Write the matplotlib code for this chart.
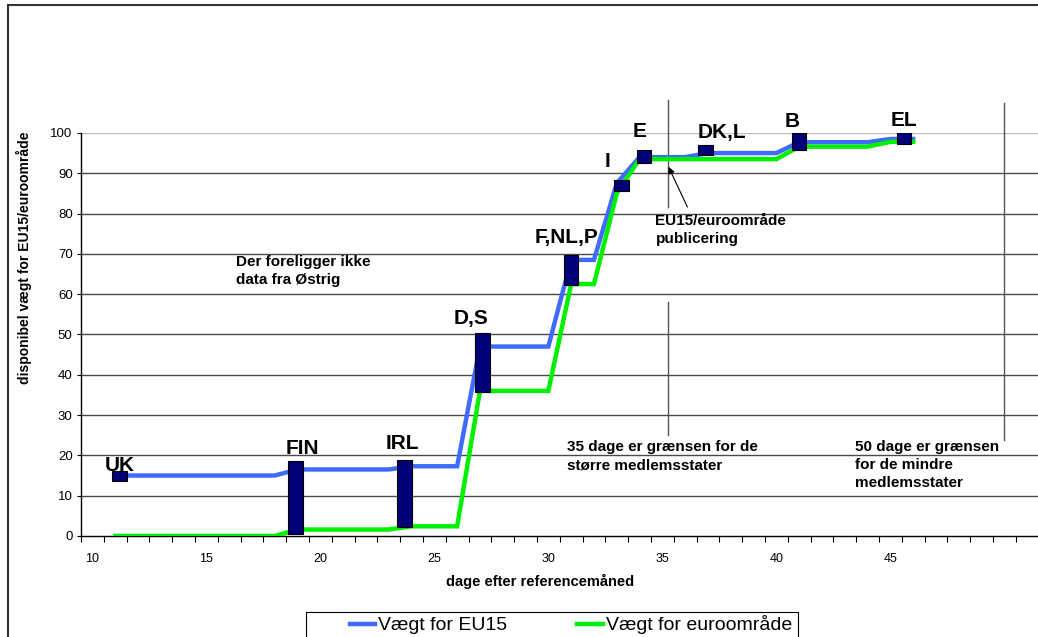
import numpy as np
import matplotlib
matplotlib.use('Agg')
import matplotlib.pyplot as plt
from matplotlib.lines import Line2D
from matplotlib.patches import Rectangle

plt.rcParams['font.family'] = ['Liberation Sans', 'DejaVu Sans']

# ---------------------------------------------------------------- data
dage = list(range(11, 47))
vaegt_eu15 = [15.0] * 8 + [16.5] * 5 + [17.3] * 3 + [47.0] * 4 + [68.5] * 2 \
    + [87.5] + [94.0] * 3 + [95.0] * 4 + [97.7] * 4 + [98.5] * 2
vaegt_euro = [0.0] * 8 + [1.6] * 5 + [2.4] * 3 + [36.0] * 4 + [62.5] * 2 \
    + [85.0] + [93.5] * 7 + [96.6] * 4 + [97.8] * 2

lande = ['UK', 'FIN', 'IRL', 'D,S', 'F,NL,P', 'I', 'E', 'DK,L', 'B', 'EL']
land_dag = [11.2, 18.9, 23.7, 27.1, 31.0, 33.2, 34.2, 36.9, 41.0, 45.6]
land_lav = [13.6, 0.5, 2.2, 35.6, 62.3, 85.6, 92.6, 94.5, 95.8, 97.3]
land_hoej = [16.2, 18.6, 18.9, 50.4, 69.7, 88.3, 95.8, 97.1, 99.9, 100.3]

# label placement (text anchors, data coords)
lab_x = [11.2, 19.2, 23.6, 26.6, 30.8, 32.6, 34.0, 37.6, 40.7, 45.6]
lab_y = [16.1, 20.3, 21.5, 52.6, 72.8, 91.6, 98.9, 98.8, 101.4, 101.7]

BLUE = '#3f6bff'
GREEN = '#00f000'
NAVY = '#000078'

# ---------------------------------------------------------------- figure
fig = plt.figure(figsize=(10.38, 6.37), dpi=100)
ax = fig.add_axes([0.078, 0.1586, 0.9225, 0.6327])

for yv in range(10, 100, 10):
    ax.axhline(yv, color='#4a4a4a', lw=1.0, zorder=1)
ax.axhline(100, color='#bdbdbd', lw=1.0, zorder=1)

ax.plot(dage, vaegt_eu15, color=BLUE, lw=3.2, solid_joinstyle='miter',
        label='Vægt for EU15', zorder=3)
ax.plot(dage, vaegt_euro, color=GREEN, lw=3.2, solid_joinstyle='miter',
        label='Vægt for euroområde', zorder=3)

ax.bar(land_dag, np.array(land_hoej) - np.array(land_lav), bottom=land_lav,
       width=0.64, color=NAVY, edgecolor='black', lw=0.8, zorder=5)
for nm, tx, ty in zip(lande, lab_x, lab_y):
    ax.text(tx, ty, nm, ha='center', va='baseline', fontsize=15,
            fontweight='bold', zorder=6)

# grænse-linjer
ax.plot([35.25, 35.25], [81.6, 108.2], color='#555555', lw=1.0,
        clip_on=False, zorder=2)
ax.plot([35.25, 35.25], [25.1, 58.1], color='#555555', lw=1.0,
        clip_on=False, zorder=2)
ax.plot([50.0, 50.0], [23.8, 107.4], color='#555555', lw=1.0,
        clip_on=False, zorder=2)

tkw = dict(fontsize=11, fontweight='bold', va='top', ha='left',
           linespacing=1.38, zorder=6)
ax.text(16.3, 69.8, 'Der foreligger ikke\ndata fra Østrig', **tkw)
ax.text(30.8, 23.8, '35 dage er grænsen for de\nstørre medlemsstater', **tkw)
ax.text(43.45, 23.8, '50 dage er grænsen\nfor de mindre\nmedlemsstater', **tkw)
ax.text(34.7, 80.0, 'EU15/euroområde\npublicering', **tkw)
ax.annotate('', xy=(35.27, 91.6), xytext=(36.1, 81.6),
            arrowprops=dict(arrowstyle='-|>', color='black', lw=0.8,
                            mutation_scale=10, shrinkA=0, shrinkB=0),
            zorder=6)

ax.set_xlim(9.5, 51.5)
ax.set_ylim(0, 100)
ax.set_yticks(range(0, 101, 10))
ax.set_xticks(np.arange(9.5, 52, 1.0))
ax.set_xticklabels([])
ax.set_xticks(range(10, 50, 5), minor=True)
ax.set_xticklabels([str(v) for v in range(10, 50, 5)], minor=True)
ax.tick_params(axis='x', which='major', length=4, width=0.8)
ax.tick_params(axis='x', which='minor', length=0, pad=12, labelsize=9)
ax.tick_params(axis='y', length=3, width=0.8, labelsize=9.5, pad=3)
for s in ('top', 'right'):
    ax.spines[s].set_visible(False)
ax.spines['left'].set_linewidth(1.0)
ax.spines['bottom'].set_linewidth(1.0)

ax.set_xlabel('dage efter referencemåned', fontsize=10.5, fontweight='bold')
ax.xaxis.set_label_coords(0.479, -0.094)
ax.set_ylabel('disponibel vægt for EU15/euroområde', fontsize=10,
              fontweight='bold')
ax.yaxis.set_label_coords(-0.051, 0.69)

fig.legend(loc='center left', bbox_to_anchor=(350 / 1038, 12 / 637), ncol=2,
           fontsize=14, frameon=False, handlelength=1.3, handletextpad=0.15,
           columnspacing=3.6, borderpad=0, borderaxespad=0)
fig.add_artist(Rectangle((306 / 1038, -0.01), 492 / 1038, 0.05,
                         transform=fig.transFigure, fill=False,
                         edgecolor='black', lw=0.8))

# ydre ramme
fig.add_artist(Line2D([0.0077, 0.0077], [0, 0.992], color='#333333', lw=1.5,
                      transform=fig.transFigure))
fig.add_artist(Line2D([0.0077, 1.0], [0.992, 0.992], color='#333333', lw=1.5,
                      transform=fig.transFigure))

fig.savefig('out.png', dpi=100)
